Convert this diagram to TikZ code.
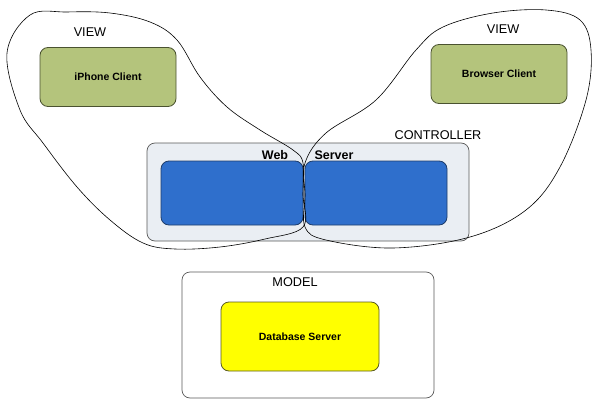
\documentclass[tikz,border=0pt]{standalone}
\usepackage{fontspec}
\setmainfont{Liberation Sans}
\usepackage{tikz}
\usetikzlibrary{positioning}

\definecolor{clientgreen}{HTML}{B4C47C}
\definecolor{clientedge}{HTML}{4A5230}
\definecolor{srvblue}{HTML}{2F6FCC}
\definecolor{srvedge}{HTML}{1E3D6B}
\definecolor{ctrlgrey}{HTML}{EAEEF3}
\definecolor{dbyellow}{HTML}{FFFF00}
\definecolor{dbedge}{HTML}{5A5A20}

\begin{document}
\begin{tikzpicture}[
x=1pt, y=-1pt,
    layer/.style = {rectangle, rounded corners=8pt, draw=black!65,% MVC layer frames
                    line width=0.7pt, inner sep=0pt},
   client/.style = {rectangle, rounded corners=8pt, draw=clientedge, fill=clientgreen,
                    line width=0.8pt, minimum width=136pt, minimum height=59pt,
                    inner sep=0pt, font=\fontsize{10.5}{12}\selectfont\bfseries},
   webhalf/.style = {rectangle, rounded corners=8pt, draw=srvedge, fill=srvblue,
                    line width=0.8pt, minimum width=142pt, minimum height=64pt,
                    inner sep=0pt},
    lbl/.style = {inner sep=0pt, font=\fontsize{12.7}{15}\selectfont},
   blbl/.style = {inner sep=0pt, font=\fontsize{12.5}{15}\selectfont\bfseries},
                        ]
\useasboundingbox (0,0) rectangle (593,401);
% controller
\node[layer, fill=ctrlgrey, minimum width=322pt, minimum height=98pt] (ctrl) at (308,192) {};
\node[lbl] (ctrllbl) at (438,135) {CONTROLLER};
\node[webhalf] (web) at (232,193) {};
\node[webhalf] (srv) at (376,193) {};
\node[blbl] (weblbl) at (275,155) {Web};
\node[blbl] (srvlbl) at (334,155) {Server};
% views
\node[client] (iphone) at (108,77) {iPhone Client};
\node[client] (browser) at (499,74) {Browser Client};
\node[lbl] (viewl) at (90,32) {VIEW};
\node[lbl] (viewr) at (503,29) {VIEW};
% model
\node[layer, minimum width=252pt, minimum height=126pt] (model) at (308,335) {};
\node[lbl] (modellbl) at (295,282) {MODEL};
\node[rectangle, rounded corners=8pt, draw=dbedge, fill=dbyellow, line width=0.8pt,
      minimum width=158pt, minimum height=69pt, inner sep=0pt,
      font=\fontsize{10.5}{12}\selectfont\bfseries] (db) at (300,336.5) {Database Server};
% view outlines
\draw[line width=0.6pt] plot[smooth cycle, tension=0.6] coordinates {
  (303,227) (303,195) (303,163) (293,150) (260,130) (227,107) (200,77) (177,40)
  (150,22) (110,13) (67,12) (30,15) (7,53) (20,110) (43,143) (77,187)
  (110,220) (143,243) (175,249) (220,247) (265,239)};
\draw[line width=0.6pt] plot[smooth cycle, tension=0.6] coordinates {
  (305,163) (305,195) (305,227) (326,240) (393,248) (470,237) (526,210)
  (560,167) (586,100) (591,50) (580,20) (546,10) (493,13) (443,27)
  (416,50) (376,100) (326,133)};
\end{tikzpicture}
\end{document}
